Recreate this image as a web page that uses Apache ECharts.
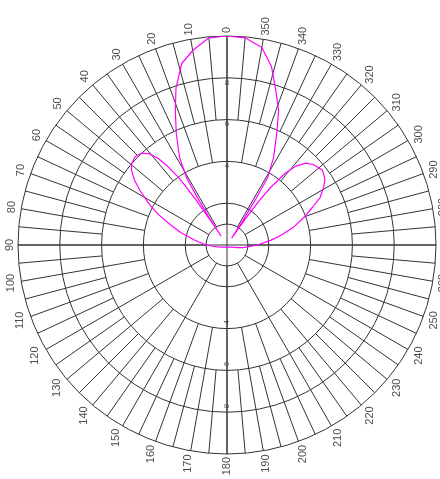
<!DOCTYPE html>
<html>
<head>
  <meta charset="utf-8">
  <style>
    html,body {
      margin: 0;
      padding: 0;
      width: 100%;
      height: 100%;
      overflow: hidden;
      background: #fff;
    }
  </style>
  <script src="https://cdn.jsdelivr.net/npm/echarts/dist/echarts.min.js"></script>
</head>
<body>
  <div id="container" style="width: 440px; height: 479px;"></div>
  <script type="text/javascript">
    // angle tick labels, counter-clockwise from the top
    var angleTicks = [0, 10, 20, 30, 40, 50, 60, 70, 80, 90, 100, 110, 120, 130, 140, 150, 160, 170,
      180, 190, 200, 210, 220, 230, 240, 250, 260, 270, 280, 290, 300, 310, 320, 330, 340, 350];
    // radial labels on the vertical axis
    var radialUp = [4, 6, 8];
    var radialDown = [4, 6, 8];

    // pattern: angle (deg) and radius (0..10)
    var lobeAngles = [0, 5, 10, 14, 18, 21, 24.5, 28.5, 31, 32, 33, 33.5, 34, 34.5, 35.5, 37, 38.5, 40.5,
      43, 46, 49.5, 52, 55, 58, 62, 66, 69.5, 75, 81, 88, 95, 102, 115, 135, 180, 225, 245, 255, 260,
      265, 270, 276, 280, 285, 290, 294, 297, 301, 304, 308, 313, 316, 319, 321, 323, 324, 325, 326,
      327, 328, 329, 332, 336, 339, 343, 346, 350, 355, 360];
    var lobeRadius = [10, 9.95, 9.45, 8.95, 7.9, 6.9, 5.85, 4.75, 3.75, 2.7, 1.5, 0.5, 1.3, 2.6, 3.9, 4.7, 5.3, 5.75,
      6.0, 6.1, 6.0, 5.8, 5.4, 4.9, 4.25, 3.6, 3.0, 2.3, 1.6, 1.1, 0.7, 0.45, 0.25, 0.15, 0.1, 0.15, 0.25, 0.5, 0.75,
      1.0, 1.45, 2.1, 2.6, 3.3, 3.95, 4.5, 5.0, 5.4, 5.65, 5.8, 5.65, 5.45, 5.0, 4.4, 3.4, 2.5, 1.5, 0.4,
      1.4, 2.6, 3.8, 4.75, 5.85, 6.9, 7.9, 8.8, 9.6, 9.95, 10];

    var cx = 227, cy = 245, R = 209;
    var gridColor = '#333333';
    var pxPerUnit = R / 10;

    var dom = document.getElementById('container');
    var myChart = echarts.init(dom, null, { renderer: 'canvas' });

    // annuli: [inner, outer] in radius units, spoke step in degrees
    var bands = [
      [6, 10, 5],
      [4, 6, 10],
      [1, 4, 30],
      [0, 10, 90],
      [0, 1, 360],
      [0, 13, 360]   // invisible frame that carries the angle labels
    ];

    var polar = [], angleAxis = [], radiusAxis = [];
    bands.forEach(function (b, i) {
      polar.push({ center: [cx, cy], radius: [b[0] * pxPerUnit, b[1] * pxPerUnit] });
      angleAxis.push({
        polarIndex: i,
        type: 'value',
        min: 0,
        max: 360,
        interval: b[2],
        startAngle: 90,
        clockwise: false,
        axisLine: { show: i === 4, lineStyle: { color: gridColor, width: 1 } },
        axisTick: { show: false },
        axisLabel: { show: false },
        splitLine: { show: i < 4, lineStyle: { color: gridColor, width: 1 } }
      });
      radiusAxis.push({
        polarIndex: i,
        type: 'value',
        min: 0,
        max: i === 5 ? 13 : 10,
        interval: 2,
        axisLine: { show: false },
        axisTick: { show: false },
        axisLabel: { show: false },
        splitLine: { show: i === 3, lineStyle: { color: gridColor, width: 1 } }
      });
    });

    // place rotated tick labels just outside the outer ring
    function labelRadius(a, text) {
      var w = 6.1 * text.length, h = 11;
      var rad = a * Math.PI / 180;
      var off = 3 + 0.5 * (h * Math.abs(Math.sin(rad)) + w * Math.abs(Math.cos(rad)));
      return 10 + off / pxPerUnit;
    }

    var labelData = angleTicks.map(function (a) {
      var t = String(a);
      return { name: t, value: [labelRadius(a, t), a] };
    });

    var lobeData = lobeAngles.map(function (a, i) {
      return [lobeRadius[i], a];
    });

    var labelFont = {
      show: true,
      position: 'inside',
      formatter: '{b}',
      color: '#1a1a1a',
      fontFamily: 'Liberation Sans, Arial, sans-serif'
    };

    var option = {
      animation: false,
      polar: polar,
      angleAxis: angleAxis,
      radiusAxis: radiusAxis,
      series: [{
        type: 'line',
        coordinateSystem: 'polar',
        polarIndex: 3,
        data: lobeData,
        symbol: 'none',
        silent: true,
        z: 5,
        lineStyle: { color: '#ff00ff', width: 1.2 }
      }, {
        type: 'scatter',
        coordinateSystem: 'polar',
        polarIndex: 5,
        data: labelData,
        symbolSize: 0,
        silent: true,
        label: Object.assign({}, labelFont, { rotate: 90, fontSize: 11 })
      }, {
        type: 'scatter',
        coordinateSystem: 'polar',
        polarIndex: 3,
        data: radialUp.map(function (v) { return { name: String(v), value: [v - 0.22, 0] }; }),
        symbolSize: 0,
        silent: true,
        label: Object.assign({}, labelFont, { fontSize: 8, color: '#333' })
      }, {
        type: 'scatter',
        coordinateSystem: 'polar',
        polarIndex: 3,
        data: radialDown.map(function (v) { return { name: String(v), value: [v - 0.3, 180] }; }),
        symbolSize: 0,
        silent: true,
        label: Object.assign({}, labelFont, { rotate: 90, fontSize: 8, color: '#333' })
      }]
    };

    myChart.setOption(option);
  </script>
</body>
</html>
